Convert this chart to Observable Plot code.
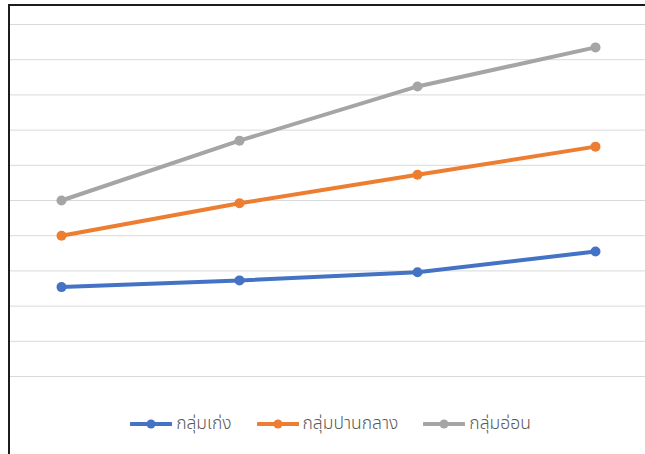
<!DOCTYPE html>
<html>
<head>
<meta charset="utf-8">
<script src="https://cdn.jsdelivr.net/npm/d3@7"></script>
<script src="https://cdn.jsdelivr.net/npm/@observablehq/plot@0.6"></script>
<style>
  html, body { margin: 0; padding: 0; background: #fff; width: 645px; height: 454px; overflow: hidden; }
  #frame { position: absolute; left: 8px; top: 4px; width: 645px; height: 460px;
           border-left: 2px solid #1c1c1c; border-top: 2px solid #1c1c1c; box-sizing: border-box; }
  #chart { position: absolute; left: 0px; top: 0px; }
  #legend { position: absolute; left: 3px; top: 404px; width: 635px; display: flex; justify-content: center;
            font-family: "Noto Sans Thai", Tahoma, "DejaVu Sans", sans-serif; font-size: 17.5px; font-weight: 300; color: #595959; }
  .item { display: flex; align-items: center; margin: 0 12.5px; }
  .item svg { margin-right: 4px; }
</style>
</head>
<body>
<div id="frame"><div id="chart"></div><div id="legend"></div></div>
<script>
const categories = ["1", "2", "3", "4"];
const seriesNames = ["กลุ่มเก่ง", "กลุ่มปานกลาง", "กลุ่มอ่อน"];
const seriesColors = ["#4472C4", "#ED7D31", "#A5A5A5"];
const keng = [2.54, 2.73, 2.96, 3.55];
const panklang = [4.0, 4.92, 5.73, 6.53];
const on = [5.0, 6.7, 8.24, 9.35];
const yTicks = [0, 1, 2, 3, 4, 5, 6, 7, 8, 9, 10];

const seriesValues = [keng, panklang, on];
const data = [];
seriesValues.forEach((vals, s) => vals.forEach((v, i) => data.push({cat: categories[i], value: v, series: seriesNames[s]})));

const plot = Plot.plot({
  width: 635,
  height: 390,
  marginLeft: 0,
  marginRight: 0,
  marginTop: 18,
  marginBottom: 20,
  x: {type: "point", domain: categories, padding: 0.28, axis: null},
  y: {domain: [0, 10], axis: null},
  color: {domain: seriesNames, range: seriesColors},
  marks: [
    Plot.ruleY(yTicks, {stroke: "#d9d9d9", strokeWidth: 1}),
    Plot.line(data, {x: "cat", y: "value", z: "series", stroke: "series", strokeWidth: 4, strokeLinecap: "round"}),
    Plot.dot(data, {x: "cat", y: "value", fill: "series", r: 5, stroke: "none"})
  ]
});
document.getElementById("chart").appendChild(plot);

const legend = document.getElementById("legend");
seriesNames.forEach((name, i) => {
  const item = document.createElement("div");
  item.className = "item";
  item.innerHTML = `<svg width="42" height="12"><line x1="1" y1="6" x2="41" y2="6" stroke="${seriesColors[i]}" stroke-width="4" stroke-linecap="round"/><circle cx="21" cy="6" r="4.5" fill="${seriesColors[i]}"/></svg><span>${name}</span>`;
  legend.appendChild(item);
});
</script>
</body>
</html>
